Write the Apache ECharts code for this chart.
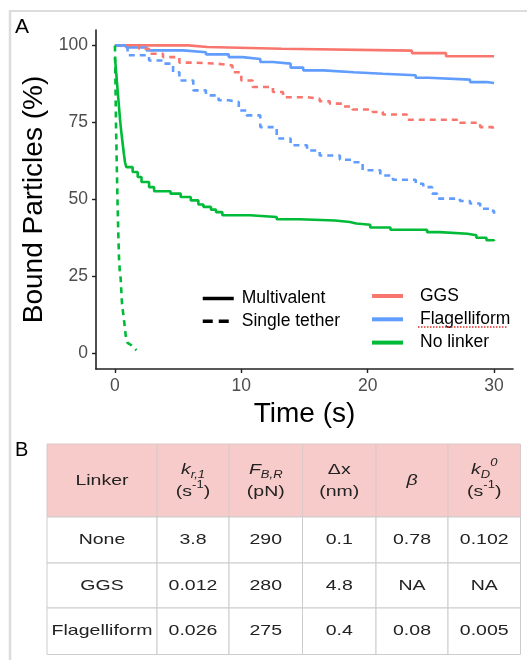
<!DOCTYPE html>
<html>
<head>
<meta charset="utf-8">
<script src="https://cdn.jsdelivr.net/npm/echarts@6/dist/echarts.min.js"></script>
<style>
  html, body { margin: 0; padding: 0; background: #fff; }
  #chart { width: 527px; height: 660px; }
</style>
</head>
<body>
<div id="chart"></div>
<script>
const FONT = '"Liberation Sans", Arial, Helvetica, sans-serif';

// Bound particles over time, [time (s), bound particles (%)]
const ggsMultivalent = [[0,100],[5.8,99.5],[7.3,98.9],[13.2,98.3],[23.5,97.5],[26.2,96.5],[30,96.5]];
const ggsSingle = [[0,100],[1.9,98.9],[2.7,97.3],[3.8,96.2],[5.1,94.4],[6.2,94.1],[8.0,93.5],[9.3,91.3],[10.0,88.6],[10.9,86.5],[12.5,84.9],[13.3,83.2],[15.2,82.7],[16.2,81.9],[17.0,81.1],[18.1,80.2],[18.8,79.2],[20.4,78.4],[21.2,77.6],[23.1,75.9],[27.3,74.9],[28.9,73.5],[29.9,72.8],[30,72.8]];
const flagMultivalent = [[0,100],[0.9,99.3],[2.5,98.4],[5.4,97.8],[7.2,97.1],[9.0,96.2],[10.1,95.6],[11.5,94.6],[12.5,94.1],[13.9,92.8],[14.9,91.9],[16.5,91.3],[18.9,90.8],[21.2,90.3],[23.8,89.5],[24.8,88.9],[28.1,88.1],[29.4,87.8],[30,87.8]];
const flagSingle = [[0,100],[0.3,99.4],[1.0,96.8],[2.7,95.1],[3.8,94.1],[4.6,91.3],[5.1,88.6],[6.2,85.4],[7.2,83.8],[8.2,82.2],[9.0,81.6],[9.8,78.9],[10.4,77.3],[11.5,73.5],[12.8,69.8],[13.9,67.6],[15.2,65.9],[16.2,64.3],[17.8,62.9],[18.8,62.1],[19.6,59.5],[21.0,57.8],[22.0,56.4],[23.8,55.1],[24.4,54.0],[25.1,51.9],[25.5,50.3],[27.3,49.5],[28.1,48.7],[28.9,47.0],[29.7,46.3],[30,45.4]];
const noLinkerMultivalent = [[0,96],[0.1,91],[0.2,86],[0.3,81],[0.4,76],[0.5,72],[0.6,68.5],[0.7,65],[0.8,62],[0.9,60.5],[1.4,58.9],[1.8,57.3],[2.1,55.7],[2.7,54.0],[3.1,52.7],[4.4,51.9],[5.2,50.8],[6.0,49.7],[6.6,48.4],[7.0,47.6],[7.6,46.7],[8.0,45.9],[8.5,44.9],[10.7,44.3],[12.8,43.6],[14.6,43.2],[17.4,42.7],[18.6,42.2],[19.1,41.8],[20.2,40.9],[21.8,40.2],[24.7,39.4],[25.7,38.9],[27.9,38.4],[28.6,37.6],[29.4,36.8],[30,36.5]];
const noLinkerSingle = [[0,100],[0.04,88],[0.08,75],[0.14,62],[0.2,50],[0.27,38],[0.32,31],[0.38,27],[0.45,24.4],[0.5,20.5],[0.55,16.7],[0.65,13],[0.75,9.7],[0.85,5.9],[1.0,3.5],[1.3,2.7],[1.7,1.1]];

const timeTicks = [0, 10, 20, 30];
const boundTicks = [0, 25, 50, 75, 100];

const linkerNames = ['GGS', 'Flagelliform', 'No linker'];
const tetherNames = ['Multivalent', 'Single tether'];

// Fitted parameters per linker
const tableLinkers = ['None', 'GGS', 'Flagelliform'];
const kRate1 = ['3.8', '0.012', '0.026'];
const ruptureForce = ['290', '280', '275'];
const deltaX = ['0.1', '4.8', '0.4'];
const betaValues = ['0.78', 'NA', '0.08'];
const kD0 = ['0.102', 'NA', '0.005'];

const COLORS = { 'GGS': '#F8766D', 'Flagelliform': '#619CFF', 'No linker': '#00BA38' };
const LINE_W = 2.6;
const DASH = [6, 5];

function curve(name, data, dashed, step) {
  return {
    name: name, type: 'line', data: data,
    step: step ? 'end' : false,
    symbol: 'none', silent: true,
    color: COLORS[name],
    lineStyle: { width: LINE_W, type: dashed ? DASH : 'solid', cap: 'butt' }
  };
}

const series = [
  curve('GGS', ggsMultivalent, false, true),
  curve('Flagelliform', flagMultivalent, false, true),
  curve('No linker', noLinkerMultivalent, false, true),
  curve('GGS', ggsSingle, true, true),
  curve('Flagelliform', flagSingle, true, true),
  curve('No linker', noLinkerSingle, true, false),
  // line-type keys
  { name: 'Multivalent', type: 'line', data: [], symbol: 'none', color: '#000',
    lineStyle: { width: 3.5, type: 'solid' } },
  { name: 'Single tether', type: 'line', data: [], symbol: 'none', color: '#000',
    lineStyle: { width: 3.5, type: [10, 6] } }
];

// ---- table (panel B) ----
const tableLeft = 47, tableTop = 444;
const colWidths = [110, 72, 73.5, 73.5, 72, 72.5];
const headerHeight = 73;
const rowHeights = [46, 45, 46.5];
const TXT_SCALE = 1.3;
const TABLE_FS = 15;

const richStyles = {
  n: { fontSize: TABLE_FS, fontFamily: FONT, lineHeight: 22, fill: '#222' },
  it: { fontSize: TABLE_FS, fontFamily: FONT, fontStyle: 'italic', lineHeight: 22, fill: '#222' },
  sub: { fontSize: 10, fontFamily: FONT, fontStyle: 'italic', lineHeight: 13, verticalAlign: 'bottom', fill: '#222' },
  sup: { fontSize: 10, fontFamily: FONT, lineHeight: 16, verticalAlign: 'top', fill: '#222' },
  supi: { fontSize: 10, fontFamily: FONT, fontStyle: 'italic', lineHeight: 16, verticalAlign: 'top', fill: '#222' }
};
const headerTexts = [
  '{n|Linker}',
  '{it|k}{sub|r,1}\n{n|(s}{sup|-1}{n|)}',
  '{it|F}{sub|B,R}\n{n|(pN)}',
  '{n|Δx}\n{n|(nm)}',
  '{it|β}',
  '{it|k}{sub|D}{supi|0}\n{n|(s}{sup|-1}{n|)}'
];
const tableColumns = [tableLinkers, kRate1, ruptureForce, deltaX, betaValues, kD0];

const graphics = [];
// figure frame
graphics.push({ type: 'line', shape: { x1: 10, y1: 11, x2: 10, y2: 660 }, style: { stroke: '#dcdcdc', lineWidth: 2.5 } });
graphics.push({ type: 'line', shape: { x1: 9, y1: 11, x2: 527, y2: 11 }, style: { stroke: '#dcdcdc', lineWidth: 2 } });
// panel tags
graphics.push({ type: 'text', x: 15, y: 17, style: { text: 'A', fontSize: 21, fontFamily: FONT, fill: '#000' } });
graphics.push({ type: 'text', x: 15, y: 440, style: { text: 'B', fontSize: 20, fontFamily: FONT, fill: '#000' } });

function cellText(cx, cy, text) {
  return { type: 'text', x: cx, y: cy, scaleX: TXT_SCALE, z: 20,
    style: { text: text, x: 0, y: 0, align: 'center', verticalAlign: 'middle',
      fontSize: TABLE_FS, fontFamily: FONT, fill: '#222', rich: richStyles } };
}

let cx0 = tableLeft;
colWidths.forEach(function (w, c) {
  // header cell
  graphics.push({ type: 'rect', z: 10, shape: { x: cx0, y: tableTop, width: w, height: headerHeight },
    style: { fill: '#f6cbc9', stroke: '#dcc8c8', lineWidth: 1 } });
  graphics.push(cellText(cx0 + w / 2, tableTop + headerHeight / 2, headerTexts[c]));
  let y0 = tableTop + headerHeight;
  rowHeights.forEach(function (h, r) {
    graphics.push({ type: 'rect', z: 10, shape: { x: cx0, y: y0, width: w, height: h },
      style: { fill: '#fff', stroke: '#cccccc', lineWidth: 1 } });
    graphics.push(cellText(cx0 + w / 2, y0 + h / 2, tableColumns[c][r]));
    y0 += h;
  });
  cx0 += w;
});

// spell-check underline under the legend label
graphics.push({ type: 'line', z: 30, shape: { x1: 418, y1: 327, x2: 508, y2: 327 },
  style: { stroke: '#e0302a', lineWidth: 1.5, lineDash: [1.5, 1.5] } });

const chart = echarts.init(document.getElementById('chart'), null, { renderer: 'canvas' });
chart.setOption({
  animation: false,
  backgroundColor: '#fff',
  textStyle: { fontFamily: FONT },
  grid: { left: 96, right: 14, top: 30, bottom: 291, containLabel: false },
  xAxis: {
    type: 'value', min: -1.5, max: 31.5,
    name: 'Time (s)', nameLocation: 'middle', nameGap: 28,
    nameTextStyle: { fontSize: 28, color: '#000', fontFamily: FONT },
    axisLine: { onZero: false, lineStyle: { color: '#222', width: 1.6 } },
    axisTick: { show: true, length: 4, customValues: timeTicks, lineStyle: { color: '#222', width: 1.4 } },
    axisLabel: { customValues: timeTicks, fontSize: 17.5, color: '#4d4d4d', margin: 8, fontFamily: FONT },
    splitLine: { show: false }
  },
  yAxis: {
    type: 'value', min: -5, max: 105,
    name: 'Bound Particles (%)', nameLocation: 'middle', nameGap: 35, nameRotate: 90,
    nameTextStyle: { fontSize: 28, color: '#000', fontFamily: FONT },
    axisLine: { show: true, onZero: false, lineStyle: { color: '#222', width: 1.6 } },
    axisTick: { show: true, length: 4, customValues: boundTicks, lineStyle: { color: '#222', width: 1.4 } },
    axisLabel: { customValues: boundTicks, fontSize: 17.5, color: '#4d4d4d', margin: 8, fontFamily: FONT },
    splitLine: { show: false }
  },
  legend: [
    { data: tetherNames, orient: 'vertical', left: 201, top: 289.5, padding: 0,
      itemWidth: 31, itemHeight: 20, itemGap: 4.8, selectedMode: false,
      itemStyle: { opacity: 0 },
      lineStyle: { width: 3.5 },
      textStyle: { fontSize: 17.5, color: '#000', fontFamily: FONT, padding: [0, 0, 0, 3] } },
    { data: linkerNames, orient: 'vertical', left: 370, top: 287, padding: 0,
      itemWidth: 31, itemHeight: 20, itemGap: 5.3, selectedMode: false,
      itemStyle: { opacity: 0 },
      lineStyle: { width: 4, type: 'solid' },
      textStyle: { fontSize: 17.5, color: '#000', fontFamily: FONT, padding: [0, 0, 0, 12] } }
  ],
  series: series,
  graphic: graphics
});
</script>
</body>
</html>
